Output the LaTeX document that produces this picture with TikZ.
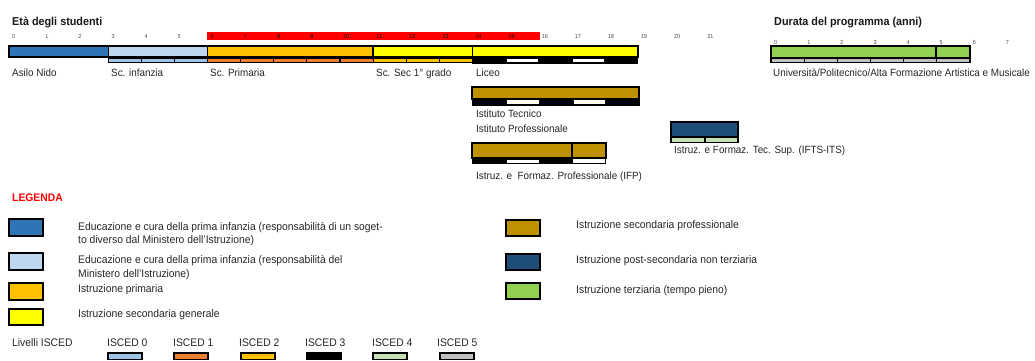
\documentclass[tikz,border=0pt]{standalone}
\usepackage{fontspec}
\setmainfont[FakeStretch=0.94]{Liberation Sans}
\definecolor{nido}{HTML}{2E75B6}
\definecolor{infanzia}{HTML}{BDD7EE}
\definecolor{primaria}{HTML}{FFC000}
\definecolor{secgen}{HTML}{FFFF00}
\definecolor{secprof}{HTML}{BF9000}
\definecolor{postsec}{HTML}{1F4E79}
\definecolor{terz}{HTML}{92D050}
\definecolor{iscz}{HTML}{9DC3E6}
\definecolor{iscu}{HTML}{ED7D31}
\definecolor{iscd}{HTML}{FFC000}
\definecolor{iscq}{HTML}{C5E0B4}
\definecolor{iscc}{HTML}{BFBFBF}
\definecolor{ageband}{HTML}{FF0000}
\begin{document}
\begin{tikzpicture}[x=1pt,y=-1pt,
  lbl/.style={font=\fontsize{10.5}{12}\selectfont, text=black!85, inner sep=0pt, anchor=base west},
  keytxt/.style={font=\fontsize{11}{12}\selectfont, text=black!85, inner sep=0pt, anchor=base west},
  ttl/.style={font=\bfseries\fontsize{11.5}{13}\selectfont, text=black!90, inner sep=0pt, anchor=base west},
  tick/.style={font=\fontsize{5.8}{6}\selectfont, text=black!70, inner sep=0pt, anchor=base west},
  seg/.style={draw=black, line width=1.3pt},
  bar/.style={draw=black, line width=1.6pt},
  cell/.style={draw=black, line width=1.1pt},
  keybox/.style={draw=black, line width=1.5pt},
  isckey/.style={draw=black, line width=1.3pt}]
\useasboundingbox (0,0) rectangle (1035,361);

% ---- age scale ----
\node[ttl] (eta) at (12,26) {Età degli studenti};
\fill[ageband] (207,32) rectangle (540,40);
\foreach \a in {0,...,21} {
  \ifnum\a>5 \ifnum\a<16 \def\tc{black!95}\else\def\tc{black!70}\fi \else\def\tc{black!70}\fi
  \node[tick, text=\tc] (t\a) at ({12+33.1*\a},38) {\a};
}

% ---- main pathway bar ----
\foreach \s/\e/\c in {0/3/nido, 3/6/infanzia, 6/11/primaria, 11/14/secgen, 14/19/secgen}
  \draw[seg, fill=\c] ({9+33.1*\s},46) rectangle ({9+33.1*\e},57);
\draw[bar] (9,46) rectangle ({9+33.1*19},57);

% ISCED strips under the main bar
\foreach \a in {3,4,5}
  \draw[cell, fill=iscz] ({9+33.1*\a},58.5) rectangle ({9+33.1*(\a+1)},62.8);
\foreach \a in {6,...,10}
  \draw[cell, fill=iscu] ({9+33.1*\a},58.5) rectangle ({9+33.1*(\a+1)},62.8);
\foreach \a in {11,12,13}
  \draw[cell, fill=iscd] ({9+33.1*\a},58.5) rectangle ({9+33.1*(\a+1)},62.8);
\fill[black] ({9+33.1*14},57.5) rectangle ({9+33.1*19},63.5);
\foreach \a in {15,17}
  \fill[white] ({9+33.1*\a+1},59.3) rectangle ({9+33.1*(\a+1)-1},62.3);

\node[lbl] (nido) at (12,76) {Asilo Nido};
\node[lbl] (inf) at (111,76) {Sc. infanzia};
\node[lbl] (prim) at (210,76) {Sc. Primaria};
\node[lbl] (sec1) at (376,76) {Sc. Sec 1° grado};
\node[lbl] (liceo) at (476,76) {Liceo};

% ---- Istituto Tecnico / Professionale ----
\draw[bar, fill=secprof] (472,87) rectangle (639,99);
\fill[black] (472,99) rectangle (640,106);
\foreach \xa/\xb in {507/539, 574/605}
  \fill[white] (\xa,100.3) rectangle (\xb,103.8);
\node[lbl] (itec) at (476,117) {Istituto Tecnico};
\node[lbl] (iprof) at (476,132) {Istituto Professionale};

% ---- IFP ----
\draw[seg, fill=secprof] (472,143) rectangle (572,158);
\draw[seg, fill=secprof] (572,143) rectangle (606,158);
\fill[black] (472,158) rectangle (573,164);
\fill[white] (507,159.5) rectangle (539,163);
\draw[draw=black, line width=0.8pt, fill=white] (572.5,158) rectangle (605.5,163.6);
\node[lbl] (ifp) at (476,179) {Istruz. e~ Formaz. Professionale (IFP)};

% ---- IFTS-ITS ----
\draw[bar, fill=postsec] (671,122) rectangle (738,137);
\foreach \xa/\xb in {671/705, 705/738}
  \draw[cell, fill=iscq] (\xa,137.6) rectangle (\xb,142.5);
\node[lbl] (ifts) at (674,153) {Istruz. e Formaz. Tec. Sup. (IFTS-ITS)};

% ---- programme duration ----
\node[ttl] (durata) at (774,26) {Durata del programma (anni)};
\foreach \k in {0,...,7}
  \node[tick] (d\k) at ({774+33.1*\k},45) {\k};
\draw[seg, fill=terz] (771,46) rectangle (936,57.5);
\draw[seg, fill=terz] (936,46) rectangle (970,57.5);
\draw[bar] (771,46) rectangle (970,57.5);
\foreach \k in {0,...,5}
  \draw[cell, fill=iscc] ({771+33.17*\k},58.5) rectangle ({771+33.17*(\k+1)},62.8);
\node[lbl] (uni) at (773,76) {Università/Politecnico/Alta Formazione Artistica e Musicale};

% ---- legend ----
\node[font=\bfseries\fontsize{11}{13}\selectfont, text=red, inner sep=0pt, anchor=base west] (leg) at (12,201) {LEGENDA};

\draw[keybox, fill=nido] (9,219) rectangle (43,236);
\node[keytxt] (k1a) at (78,230) {Educazione e cura della prima infanzia (responsabilità di un soget-};
\node[keytxt] (k1b) at (78,243) {to diverso dal Ministero dell'Istruzione)};

\draw[keybox, fill=infanzia] (9,253) rectangle (43,270);
\node[keytxt] (k2a) at (78,263) {Educazione e cura della prima infanzia (responsabilità del};
\node[keytxt] (k2b) at (78,277) {Ministero dell'Istruzione)};

\draw[keybox, fill=primaria] (9,283) rectangle (43,300);
\node[keytxt] (k3) at (78,292) {Istruzione primaria};

\draw[keybox, fill=secgen] (9,309) rectangle (43,325);
\node[keytxt] (k4) at (78,317) {Istruzione secondaria generale};

\draw[keybox, fill=secprof] (506,220) rectangle (540,236);
\node[keytxt] (k5) at (576,228) {Istruzione secondaria professionale};

\draw[keybox, fill=postsec] (506,254) rectangle (540,270);
\node[keytxt] (k6) at (576,263) {Istruzione post-secondaria non terziaria};

\draw[keybox, fill=terz] (506,283) rectangle (540,299);
\node[keytxt] (k7) at (576,293) {Istruzione terziaria (tempo pieno)};

% ---- ISCED levels ----
\node[keytxt] (liv) at (12,346) {Livelli ISCED};
\foreach \n/\xl/\xb/\c in {0/107/108/iscz, 1/173/174/iscu, 2/239/241/iscd, 3/305/307/black, 4/372/373/iscq, 5/437/440/iscc} {
  \node[keytxt] (isc\n) at (\xl,346) {ISCED \n};
  \draw[isckey, fill=\c] (\xb,353) rectangle ({\xb+34},359.5);
}
\end{tikzpicture}
\end{document}
